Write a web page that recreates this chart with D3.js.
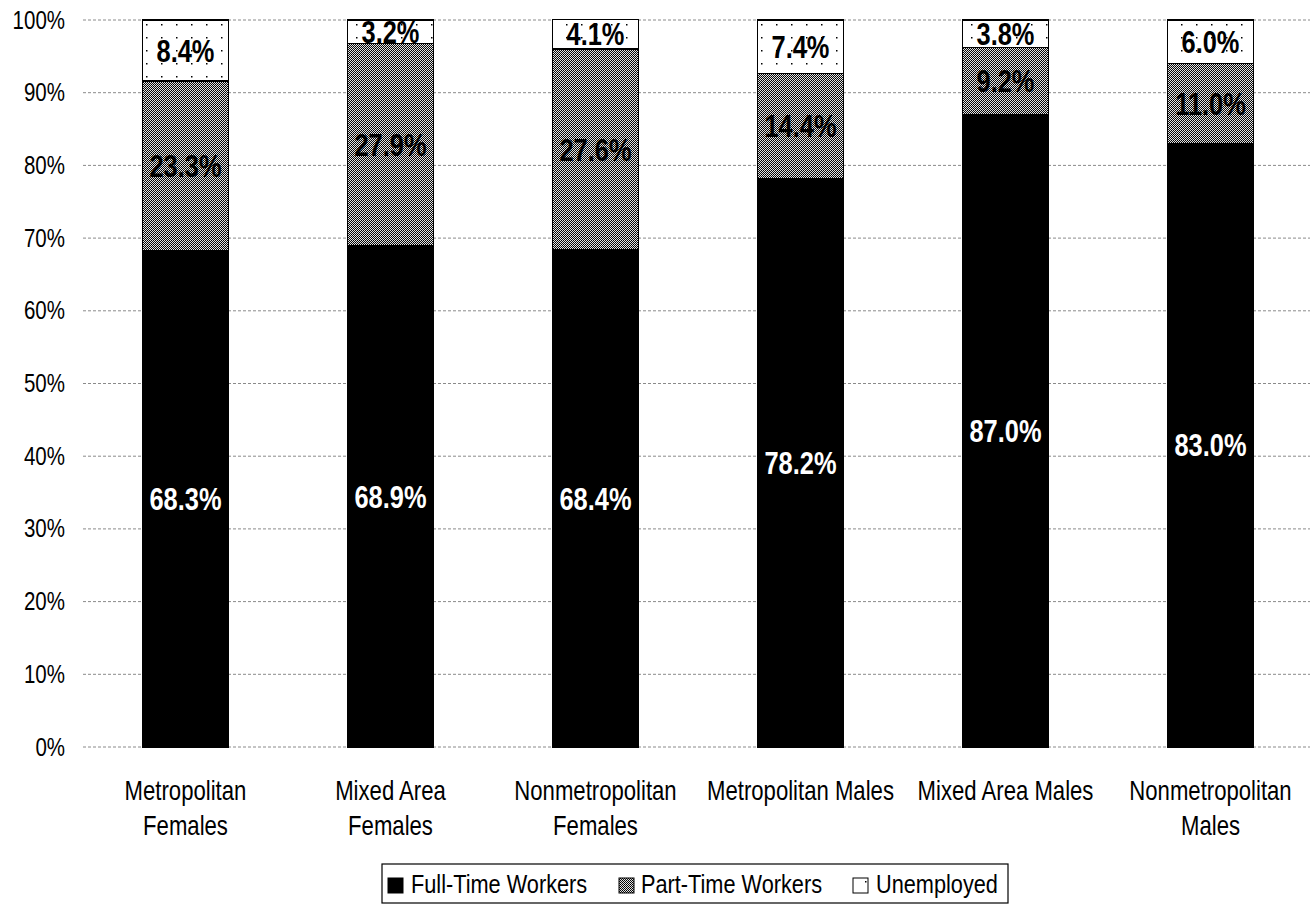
<!DOCTYPE html>
<html>
<head>
<meta charset="utf-8">
<script src="https://cdn.jsdelivr.net/npm/d3@7"></script>
<style>
  body { margin: 0; background: #fff; }
  text { font-family: "Liberation Sans Narrow", "Arial Narrow", "Liberation Sans", Arial, sans-serif; }
</style>
</head>
<body>
<svg id="chart"></svg>
<script>
const categories = [
  "Metropolitan\nFemales",
  "Mixed Area\nFemales",
  "Nonmetropolitan\nFemales",
  "Metropolitan Males",
  "Mixed Area Males",
  "Nonmetropolitan\nMales",
];
const seriesNames = ["Full-Time Workers", "Part-Time Workers", "Unemployed"];
const fullTime = [68.3, 68.9, 68.4, 78.2, 87.0, 83.0];
const partTime = [23.3, 27.9, 27.6, 14.4, 9.2, 11.0];
const unemployed = [8.4, 3.2, 4.1, 7.4, 3.8, 6.0];
const yTicks = [0, 10, 20, 30, 40, 50, 60, 70, 80, 90, 100];

const W = 1310, H = 905;
const margin = { top: 20, right: -3, bottom: 158, left: 83 };
const width = W - margin.left - margin.right;
const height = H - margin.top - margin.bottom;
const squeeze = 0.82; // no narrow font installed, so condense the regular one

const svgRoot = d3.select("#chart").attr("width", W).attr("height", H);

// fills that mimic the printed patterns
const defs = svgRoot.append("defs");
const pt = defs.append("pattern").attr("id", "pat-part")
  .attr("width", 2).attr("height", 2).attr("patternUnits", "userSpaceOnUse");
pt.append("rect").attr("width", 2).attr("height", 2).attr("fill", "#e2e2e2");
pt.append("rect").attr("width", 1).attr("height", 1).attr("fill", "#000");
pt.append("rect").attr("x", 1).attr("y", 1).attr("width", 1).attr("height", 1).attr("fill", "#111");

const un = defs.append("pattern").attr("id", "pat-unemp")
  .attr("width", 15).attr("height", 13).attr("patternUnits", "userSpaceOnUse");
un.append("rect").attr("width", 15).attr("height", 13).attr("fill", "#fff");
un.append("rect").attr("x", 3).attr("y", 4).attr("width", 1.5).attr("height", 1.5).attr("fill", "#000");

const fills = ["#000", "url(#pat-part)", "url(#pat-unemp)"];
const labelColors = ["#fff", "#000", "#000"];

const svg = svgRoot.append("g")
  .attr("transform", `translate(${margin.left},${margin.top})`);

const x = d3.scaleBand().domain(categories).range([0, width]).paddingInner(0.58).paddingOuter(0.29);
const y = d3.scaleLinear().domain([0, 100]).range([height, 0]);

// gridlines
svg.append("g").selectAll("line").data(yTicks).join("line")
  .attr("x1", 0).attr("x2", width)
  .attr("y1", d => y(d)).attr("y2", d => y(d))
  .attr("stroke", "#8a8a8a").attr("stroke-width", 1)
  .attr("stroke-dasharray", "3,2");

// y axis labels
const yAxis = d3.axisLeft(y).tickValues(yTicks).tickFormat(d => d + "%").tickSize(0).tickPadding(18 / squeeze);
const yg = svg.append("g").call(yAxis);
yg.select(".domain").remove();
yg.selectAll("text").attr("font-size", 25).attr("fill", "#000")
  .attr("font-family", '"Liberation Sans Narrow", "Arial Narrow", "Liberation Sans", sans-serif')
  .attr("transform", `scale(${squeeze},1)`);

// stacked data
const rows = categories.map((c, i) => ({ cat: c, ft: fullTime[i], pt: partTime[i], un: unemployed[i] }));
const stack = d3.stack().keys(["ft", "pt", "un"]);
const layers = stack(rows);

layers.forEach((layer, li) => {
  svg.append("g").selectAll("rect").data(layer).join("rect")
    .attr("x", d => x(d.data.cat))
    .attr("y", d => y(d[1]))
    .attr("width", x.bandwidth())
    .attr("height", d => y(d[0]) - y(d[1]))
    .attr("fill", fills[li])
    .attr("stroke", "#000").attr("stroke-width", 1.2)
    .attr("shape-rendering", "crispEdges");
});

// value labels
layers.forEach((layer, li) => {
  svg.append("g").selectAll("text").data(layer).join("text")
    .attr("transform", d =>
      `translate(${x(d.data.cat) + x.bandwidth() / 2},${y((d[0] + d[1]) / 2)}) scale(${squeeze},1)`)
    .attr("dy", "0.36em")
    .attr("text-anchor", "middle")
    .attr("font-size", 31).attr("font-weight", "bold")
    .attr("fill", labelColors[li])
    .text(d => (d[1] - d[0]).toFixed(1) + "%");
});

// category labels
const xg = svg.append("g").attr("transform", `translate(0,${height})`);
categories.forEach(c => {
  const t = xg.append("text")
    .attr("transform", `translate(${x(c) + x.bandwidth() / 2},53) scale(${squeeze},1)`)
    .attr("text-anchor", "middle")
    .attr("font-size", 27).attr("fill", "#000");
  c.split("\n").forEach((l, i) => t.append("tspan")
    .attr("x", 0).attr("dy", i === 0 ? 0 : 35).text(l));
});

// legend
const legend = svgRoot.append("g").attr("transform", "translate(382,864)");
legend.append("rect").attr("width", 626).attr("height", 39)
  .attr("fill", "#fff").attr("stroke", "#000").attr("stroke-width", 1.2);
const swatchX = [6, 237, 471];
const textX = [29, 259, 494];
seriesNames.forEach((s, i) => {
  legend.append("rect").attr("x", swatchX[i]).attr("y", 14).attr("width", 15).attr("height", 15)
    .attr("fill", fills[i]).attr("stroke", "#000").attr("stroke-width", 1);
  legend.append("text").attr("transform", `translate(${textX[i]},29) scale(${squeeze},1)`)
    .attr("font-size", 26.5).attr("fill", "#000").text(s);
});
</script>
</body>
</html>
